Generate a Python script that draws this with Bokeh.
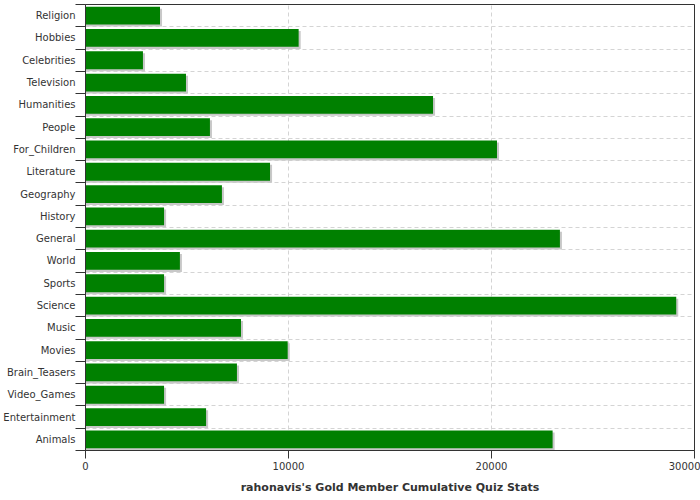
from bokeh.plotting import figure
from bokeh.models import FixedTicker, Range1d, ColumnDataSource
from bokeh.transform import dodge
from bokeh.embed import file_html
from bokeh.resources import INLINE

categories = ["Religion", "Hobbies", "Celebrities", "Television", "Humanities",
              "People", "For_Children", "Literature", "Geography", "History",
              "General", "World", "Sports", "Science", "Music", "Movies",
              "Brain_Teasers", "Video_Games", "Entertainment", "Animals"]
values = [3670, 10500, 2830, 4950, 17120, 6130, 20270, 9090, 6720, 3870,
          23370, 4650, 3870, 29100, 7660, 9960, 7460, 3870, 5940, 23010]
x_ticks = [0, 10000, 20000, 30000]
title = "rahonavis's Gold Member Cumulative Quiz Stats"

n = len(categories)
centers = [n - i - 0.5 for i in range(n)]
boundaries = list(range(n + 1))

source = ColumnDataSource(dict(y=centers, value=values, name=categories))

p = figure(width=700, height=500, output_backend="svg", toolbar_location=None,
           x_range=Range1d(0, 30000), y_range=Range1d(0, n),
           min_border_left=84, min_border_right=6, min_border_top=4,
           min_border_bottom=50)
p.background_fill_color = "white"
p.border_fill_color = "white"
p.outline_line_color = "#333333"
p.outline_line_width = 1

# grids
p.xgrid.ticker = FixedTicker(ticks=x_ticks[1:-1])
p.ygrid.ticker = FixedTicker(ticks=boundaries[1:-1])
for g in (p.xgrid, p.ygrid):
    g.grid_line_color = "#d4d4d4"
    g.grid_line_dash = "4 3"
    g.grid_line_width = 1

# shadow bars
p.hbar(y=dodge("y", -0.09), left=0, right=dodge("value", 100), height=0.8,
       source=source, fill_color="#c8c8c8", line_color=None)
# main bars
p.hbar(y="y", left=0, right="value", height=0.8, source=source,
       fill_color="#008000", line_color=None)

# y axis
ya = p.yaxis[0]
ya.ticker = FixedTicker(ticks=centers, minor_ticks=boundaries)
ya.major_label_overrides = {c: name for c, name in zip(centers, categories)}
ya.major_tick_line_color = None
ya.major_tick_out = 9
ya.major_tick_in = 0
ya.minor_tick_out = 10
ya.minor_tick_in = 0
ya.minor_tick_line_color = "#333333"
ya.axis_line_color = "#333333"
ya.major_label_standoff = 0
ya.major_label_text_font = "DejaVu Sans"
ya.major_label_text_font_size = "10px"
ya.major_label_text_color = "#333333"

# x axis
xa = p.xaxis[0]
xa.ticker = FixedTicker(ticks=x_ticks)
xa.major_tick_out = 8
xa.major_tick_in = 0
xa.minor_tick_line_color = None
xa.major_tick_line_color = "#333333"
xa.axis_line_color = "#333333"
xa.major_label_standoff = 3
xa.major_label_text_font = "DejaVu Sans"
xa.major_label_text_font_size = "10px"
xa.major_label_text_color = "#333333"
xa.axis_label = title
xa.axis_label_text_font = "DejaVu Sans"
xa.axis_label_text_font_size = "11px"
xa.axis_label_text_font_style = "bold"
xa.axis_label_text_color = "#333333"
xa.axis_label_standoff = 8

open("out.html", "w").write(file_html(p, INLINE))
